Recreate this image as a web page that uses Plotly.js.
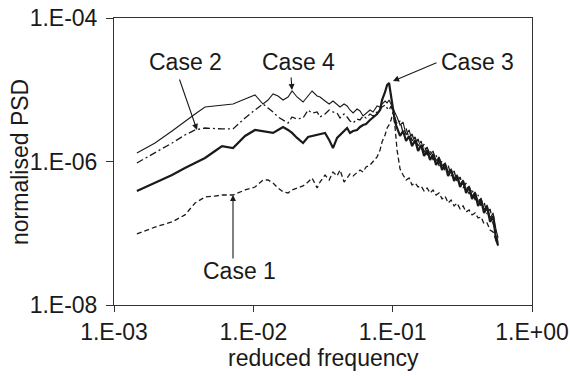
<!DOCTYPE html>
<html>
<head>
<meta charset="utf-8">
<script src="https://cdn.plot.ly/plotly-3.0.1.min.js"></script>
<style>html,body{margin:0;padding:0;background:#fff;}#chart{width:570px;height:376px;}</style>
</head>
<body>
<div id="chart"></div>
<script>
// reduced frequency (shared by all four cases)
const freq = [1.46e-3,1.97e-3,2.61e-3,3.23e-3,3.82e-3,4.50e-3,5.31e-3,5.96e-3,7.15e-3,8.72e-3,
  1.028e-2,1.174e-2,1.275e-2,1.385e-2,1.504e-2,1.634e-2,1.775e-2,1.896e-2,2.059e-2,2.275e-2,
  2.47e-2,2.64e-2,2.87e-2,3.01e-2,3.27e-2,3.50e-2,3.73e-2,3.99e-2,4.19e-2,4.48e-2,
  4.71e-2,4.94e-2,5.20e-2,5.55e-2,5.83e-2,6.13e-2,6.44e-2,6.88e-2,7.23e-2,7.73e-2,
  8.12e-2,8.39e-2,8.82e-2,9.12e-2,9.42e-2,9.74e-2,0.1007,0.1040,0.1075,0.1130,
  0.1188,0.1248,0.1312,0.1378,0.1449,0.1522,0.1600,0.1681,0.1766,0.1856,
  0.1950,0.2049,0.2154,0.2263,0.2378,0.2499,0.2626,0.2760,0.2900,0.3047,
  0.3202,0.3365,0.3536,0.3716,0.3905,0.4103,0.4311,0.4530,0.4761,0.5003,
  0.5257,0.5524,0.5710];

// normalised PSD, Case 1 (dashed)
const case1 = [9.77e-8,1.22e-7,1.44e-7,1.80e-7,2.64e-7,3.20e-7,3.30e-7,3.41e-7,3.41e-7,4.01e-7,
  4.41e-7,5.52e-7,5.52e-7,5.01e-7,4.27e-7,3.76e-7,3.64e-7,4.01e-7,4.27e-7,4.56e-7,
  5.18e-7,5.89e-7,4.27e-7,5.18e-7,6.49e-7,5.52e-7,7.14e-7,6.28e-7,7.62e-7,5.18e-7,
  5.89e-7,6.70e-7,6.28e-7,7.14e-7,7.62e-7,7.14e-7,8.38e-7,8.93e-7,9.85e-7,1.16e-6,
  1.45e-6,1.87e-6,2.34e-6,2.93e-6,3.23e-6,3.79e-6,4.90e-6,3.03e-6,1.45e-6,7.86e-7,
  6.49e-7,5.52e-7,5.89e-7,4.71e-7,5.01e-7,4.41e-7,4.56e-7,3.88e-7,4.27e-7,3.64e-7,
  4.01e-7,3.41e-7,3.64e-7,3.00e-7,3.30e-7,2.64e-7,2.90e-7,2.40e-7,2.64e-7,2.18e-7,
  2.40e-7,1.98e-7,2.11e-7,1.80e-7,1.92e-7,1.63e-7,1.69e-7,1.35e-7,1.39e-7,1.11e-7,
  1.04e-7,8.06e-8,6.64e-8];

// normalised PSD, Case 2 (dash-dot)
const case2 = [9.53e-7,1.31e-6,1.81e-6,2.34e-6,2.75e-6,2.93e-6,2.84e-6,2.84e-6,2.84e-6,4.04e-6,
  5.22e-6,6.33e-6,5.57e-6,4.90e-6,4.17e-6,3.79e-6,3.44e-6,4.17e-6,3.91e-6,4.04e-6,
  5.22e-6,4.74e-6,4.90e-6,4.17e-6,4.59e-6,5.22e-6,4.90e-6,4.74e-6,4.04e-6,4.59e-6,
  4.17e-6,3.67e-6,3.44e-6,3.91e-6,3.79e-6,4.31e-6,4.04e-6,4.59e-6,4.31e-6,4.90e-6,
  5.22e-6,5.75e-6,6.13e-6,5.57e-6,5.22e-6,5.94e-6,4.90e-6,4.04e-6,3.33e-6,3.67e-6,
  2.50e-6,2.93e-6,2.06e-6,2.42e-6,1.75e-6,2.06e-6,1.45e-6,1.75e-6,1.23e-6,1.45e-6,
  1.05e-6,1.23e-6,8.65e-7,1.02e-6,7.38e-7,8.93e-7,6.28e-7,7.38e-7,5.18e-7,6.08e-7,
  4.27e-7,5.01e-7,3.52e-7,4.14e-7,2.90e-7,3.41e-7,2.32e-7,2.73e-7,1.85e-7,2.18e-7,
  1.35e-7,1.04e-7,7.32e-8];

// normalised PSD, Case 3 (thick solid)
const case3 = [3.88e-7,5.01e-7,6.49e-7,8.11e-7,9.53e-7,1.12e-6,1.40e-6,1.64e-6,1.54e-6,2.27e-6,
  2.75e-6,2.66e-6,2.58e-6,2.50e-6,2.75e-6,3.03e-6,2.75e-6,2.50e-6,2.13e-6,1.81e-6,
  2.20e-6,2.27e-6,2.34e-6,2.42e-6,2.50e-6,2.00e-6,1.54e-6,2.13e-6,2.34e-6,2.66e-6,
  2.93e-6,2.50e-6,2.66e-6,2.75e-6,3.03e-6,3.23e-6,3.33e-6,3.79e-6,4.17e-6,4.59e-6,
  5.22e-6,7.20e-6,9.31e-6,1.165e-5,1.242e-5,7.67e-6,4.90e-6,3.55e-6,2.93e-6,2.27e-6,
  2.66e-6,1.93e-6,2.27e-6,1.64e-6,2.00e-6,1.40e-6,1.70e-6,1.19e-6,1.45e-6,1.05e-6,
  1.27e-6,8.93e-7,1.08e-6,7.62e-7,9.23e-7,6.28e-7,7.62e-7,5.35e-7,6.28e-7,4.41e-7,
  5.35e-7,3.64e-7,4.41e-7,3.00e-7,3.64e-7,2.40e-7,2.90e-7,1.92e-7,2.32e-7,1.44e-7,
  1.74e-7,8.06e-8,6.86e-8];

// normalised PSD, Case 4 (thin solid)
const case4 = [1.31e-6,1.81e-6,2.66e-6,3.67e-6,4.59e-6,5.75e-6,5.94e-6,6.13e-6,6.33e-6,7.43e-6,
  8.45e-6,6.33e-6,7.20e-6,8.73e-6,8.18e-6,7.20e-6,7.93e-6,9.61e-6,7.93e-6,6.75e-6,
  8.18e-6,9.61e-6,8.18e-6,7.93e-6,6.97e-6,6.33e-6,6.97e-6,6.33e-6,5.75e-6,6.33e-6,
  5.94e-6,5.22e-6,4.74e-6,5.39e-6,5.06e-6,4.31e-6,4.74e-6,5.22e-6,4.90e-6,5.94e-6,
  5.75e-6,6.33e-6,6.97e-6,6.54e-6,7.20e-6,6.33e-6,5.57e-6,4.90e-6,4.17e-6,3.23e-6,
  3.55e-6,2.34e-6,2.75e-6,1.93e-6,2.20e-6,1.64e-6,1.93e-6,1.36e-6,1.59e-6,1.23e-6,
  1.40e-6,1.02e-6,1.16e-6,8.65e-7,9.53e-7,7.14e-7,7.86e-7,5.89e-7,6.49e-7,4.85e-7,
  5.52e-7,4.01e-7,4.56e-7,3.30e-7,3.76e-7,2.73e-7,3.10e-7,2.11e-7,2.48e-7,1.63e-7,
  1.92e-7,1.11e-7,8.59e-8];

const xTickVals = [1e-3, 1e-2, 1e-1, 1];
const xTickText = ['1.E-03', '1.E-02', '1.E-01', '1.E+00'];
const yTickVals = [1e-8, 1e-6, 1e-4];
const yTickText = ['1.E-08', '1.E-06', '1.E-04'];
const caseNames = ['Case 1', 'Case 2', 'Case 3', 'Case 4'];

const ink = '#1a1a1a';
const font = {family: 'Liberation Sans, Arial, sans-serif', size: 23, color: ink};

const traces = [
  {x: freq, y: case1, name: caseNames[0], mode: 'lines', line: {color: ink, width: 1.3, dash: '5px,3px'}},
  {x: freq, y: case2, name: caseNames[1], mode: 'lines', line: {color: ink, width: 1.3, dash: '7px,3px,2px,3px'}},
  {x: freq, y: case4, name: caseNames[3], mode: 'lines', line: {color: ink, width: 1.1}},
  {x: freq, y: case3, name: caseNames[2], mode: 'lines', line: {color: ink, width: 2.2}}
];

function P(px, py) { return {x: (px - 114) / 418, y: (305 - py) / 287}; }

const annotations = [];
function label(txt, px, py) {
  const p = P(px, py);
  annotations.push({xref: 'paper', yref: 'paper', x: p.x, y: p.y, text: txt, showarrow: false,
    xanchor: 'center', yanchor: 'middle', font: font});
}
function arrow(hx, hy, tx, ty) {
  const p = P(hx, hy);
  annotations.push({xref: 'paper', yref: 'paper', x: p.x, y: p.y, text: '', showarrow: true,
    ax: tx - hx, ay: ty - hy, arrowhead: 2, arrowsize: 1.1, arrowwidth: 1.1, arrowcolor: ink, standoff: 0});
}
label(caseNames[1], 185, 62);
label(caseNames[3], 298, 62);
label(caseNames[2], 477, 62);
label(caseNames[0], 239, 271);
arrow(197, 130, 179, 78);
arrow(292, 90, 291, 76);
arrow(393, 81, 438, 62);
arrow(233, 195, 233, 260);
// axis titles
annotations.push({xref: 'paper', yref: 'paper', x: P(323, 0).x, y: P(0, 358).y, text: 'reduced frequency',
  showarrow: false, xanchor: 'center', yanchor: 'middle', font: font});
annotations.push({xref: 'paper', yref: 'paper', x: P(20, 0).x, y: P(0, 162).y, text: 'normalised PSD',
  showarrow: false, xanchor: 'center', yanchor: 'middle', textangle: -90, font: font});

const layout = {
  width: 570, height: 376,
  margin: {l: 114, r: 38, t: 18, b: 71, pad: 0},
  paper_bgcolor: '#fff', plot_bgcolor: '#fff',
  showlegend: false,
  font: font,
  xaxis: {type: 'log', range: [-3, 0], tickvals: xTickVals, ticktext: xTickText,
    showgrid: false, zeroline: false, showline: true, linecolor: '#333', linewidth: 1, mirror: true,
    ticks: 'outside', ticklen: 6, tickcolor: '#333', tickfont: font},
  yaxis: {type: 'log', range: [-8, -4], tickvals: yTickVals, ticktext: yTickText,
    showgrid: false, zeroline: false, showline: true, linecolor: '#333', linewidth: 1, mirror: true,
    ticks: 'outside', ticklen: 7, tickcolor: '#333', tickfont: font, ticklabelstandoff: 4},
  annotations: annotations
};

Plotly.newPlot('chart', traces, layout, {staticPlot: true, displayModeBar: false});
</script>
</body>
</html>
